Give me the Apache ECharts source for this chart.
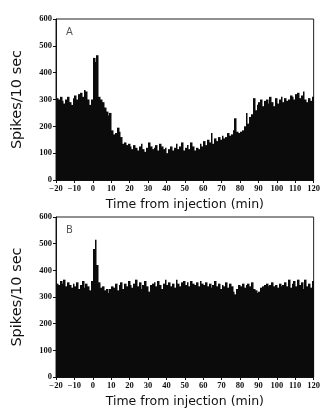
<!DOCTYPE html>
<html><head><meta charset="utf-8">
<script src="https://cdn.jsdelivr.net/npm/echarts@6/dist/echarts.min.js"></script>
<style>html,body{margin:0;padding:0;background:#fff}#c{width:323px;height:409px}</style>
</head><body><div id="c"></div>
<script>
// bins: 1-min bins starting at -20 min
const binStart = -20;
const binWidth = 1;
const xTicks = [-20,-10,0,10,20,30,40,50,60,70,80,90,100,110,120];
const yTicks = [0,100,200,300,400,500,600];
const panelLabels = ['A','B'];
const xTitle = 'Time from injection (min)';
const yTitle = 'Spikes/10 sec';

const spikesA = [
 305,300,310,295,285,300,310,290,280,305,
 315,300,320,325,310,335,330,300,280,300,
 455,440,465,310,300,290,270,255,240,250,
 185,170,175,195,180,160,135,140,130,135,
 125,115,130,120,110,125,135,115,105,120,
 140,125,115,120,130,110,135,125,115,120,
 100,115,125,110,120,135,115,125,140,110,
 120,130,115,140,125,110,120,115,135,125,
 145,130,150,140,175,135,155,145,160,150,
 165,155,160,175,165,170,185,230,180,175,
 180,185,200,250,210,235,245,305,260,280,
 290,300,275,295,300,285,310,290,275,305,
 285,300,310,290,305,295,300,315,310,300,
 320,325,305,315,330,300,290,305,295,310
];
const spikesB = [
 350,345,360,350,365,340,355,345,335,350,
 340,355,330,345,360,335,350,340,325,360,
 480,515,420,355,335,340,325,330,315,330,
 340,335,350,325,345,355,330,350,340,360,
 345,335,350,365,340,355,330,345,360,340,
 320,345,350,355,340,360,345,330,350,365,
 345,355,340,350,335,365,350,340,355,360,
 345,355,340,360,350,345,355,340,360,350,
 345,355,340,350,335,345,360,340,350,330,
 345,340,355,335,350,340,320,310,330,345,
 340,350,335,345,350,340,355,330,325,315,
 320,335,340,345,350,340,345,355,340,345,
 335,350,340,345,355,340,365,335,350,360,
 340,365,345,355,330,365,340,350,335,360
];

// each bin: [left edge, right edge, count]
function toBins(vals){ return vals.map((v,i)=>[binStart + binWidth*i, binStart + binWidth*(i+1), v]); }

function renderBin(params, api){
  const p0 = api.coord([api.value(0), api.value(2)]);
  const p1 = api.coord([api.value(1), 0]);
  const xl = Math.round(p0[0]);
  const xr = Math.round(p1[0]);
  return {type:'rect', shape:{x:xl, y:p0[1], width:Math.max(1, xr - xl + 0.5), height:p1[1]-p0[1]},
    style:{fill:'#0b0b0b'}};
}

const chart = echarts.init(document.getElementById('c'), null, {renderer:'canvas'});
const font = 'DejaVu Sans';
const tickFont = 'Liberation Sans Narrow';
const grids = [
  {left:56, right:8, top:19, height:161, show:true, borderColor:'#222', borderWidth:1},
  {left:56, right:8, top:217, height:161, show:true, borderColor:'#222', borderWidth:1}
];
function xAx(i){ return {type:'value', gridIndex:i, min:xTicks[0], max:xTicks[xTicks.length-1], interval:10,
  name:xTitle, nameLocation:'middle', nameGap:18,
  nameTextStyle:{fontFamily:font, fontSize:12.5, color:'#111'},
  axisLine:{onZero:false, lineStyle:{color:'#111', width:1}}, axisTick:{show:true, length:3, lineStyle:{color:'#111'}},
  splitLine:{show:false},
  axisLabel:{fontFamily:tickFont, fontWeight:'bold', fontSize:8.5, color:'#111', margin:4,
    formatter:v=>String(v).replace('-','\u2212')}}; }
function yAx(i){ return {type:'value', gridIndex:i, min:yTicks[0], max:yTicks[yTicks.length-1], interval:100,
  name:yTitle, nameLocation:'middle', nameGap:31,
  nameTextStyle:{fontFamily:font, fontSize:14.5, color:'#111'},
  axisLine:{show:true, onZero:false, lineStyle:{color:'#111', width:1}}, axisTick:{show:true, length:3, lineStyle:{color:'#111'}},
  splitLine:{show:false},
  axisLabel:{fontFamily:tickFont, fontWeight:'bold', fontSize:8.5, color:'#111', margin:4}}; }
function ser(i, vals){ return {type:'custom', xAxisIndex:i, yAxisIndex:i, data:toBins(vals),
  renderItem:renderBin, encode:{x:[0,1], y:2}, silent:true, animation:false, clip:true}; }
chart.setOption({
  animation:false,
  title:[
    {text:panelLabels[0], left:61, top:22, textStyle:{fontFamily:font, fontSize:10, fontWeight:'normal', color:'#555'}},
    {text:panelLabels[1], left:61, top:220, textStyle:{fontFamily:font, fontSize:10, fontWeight:'normal', color:'#555'}}
  ],
  grid:grids,
  xAxis:[xAx(0), xAx(1)],
  yAxis:[yAx(0), yAx(1)],
  series:[ser(0, spikesA), ser(1, spikesB)]
});
</script></body></html>
